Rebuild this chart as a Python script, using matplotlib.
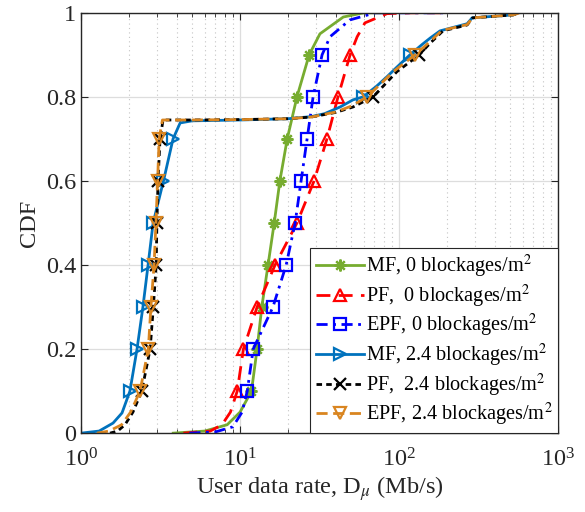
import numpy as np
import matplotlib
matplotlib.use('Agg')
import matplotlib.pyplot as plt
from matplotlib.ticker import LogLocator, NullFormatter

plt.rcParams['font.family'] = ['Liberation Serif', 'DejaVu Serif']
plt.rcParams['mathtext.fontset'] = 'stix'

# CDF curves: rate (Mb/s) vs CDF
mf0_x = [3.8, 6.0, 8.3, 10.0, 11.8, 12.8, 13.7, 15.0, 16.4, 17.8, 19.8, 22.8, 27.2, 31.8, 44.6, 60, 76]
mf0_y = [0, 0.005, 0.02, 0.05, 0.1, 0.2, 0.3, 0.4, 0.5, 0.6, 0.7, 0.8, 0.9, 0.95, 0.99, 1.0, 1.0]

pf0_x = [4.4, 6.5, 7.7, 8.7, 9.6, 10.5, 12.8, 16.6, 22.8, 29.2, 35.2, 41.3, 49.2, 54.5, 61, 84, 120, 200]
pf0_y = [0, 0.005, 0.02, 0.05, 0.1, 0.2, 0.3, 0.4, 0.5, 0.6, 0.7, 0.8, 0.9, 0.943, 0.976, 0.998, 1.0, 1.0]

epf0_x = [4.8, 7.0, 9.0, 10.3, 11.1, 12.1, 16.1, 19.5, 22.2, 24.2, 26.4, 28.8, 32.8, 36.8, 49, 71, 195]
epf0_y = [0, 0.003, 0.015, 0.05, 0.1, 0.2, 0.3, 0.4, 0.5, 0.6, 0.7, 0.8, 0.9, 0.943, 0.983, 1.0, 1.0]

mf24_x = [1.0, 1.3, 1.59, 1.81, 2.03, 2.25, 2.45, 2.64, 2.84, 3.3, 3.79, 4.2, 5.0, 10, 20, 28, 34, 42.6,
          51.4, 59.4, 72, 84, 97, 117, 140, 157, 181, 268, 288, 521, 552]
mf24_y = [0, 0.005, 0.024, 0.048, 0.1, 0.2, 0.3, 0.4, 0.5, 0.6, 0.7, 0.738, 0.743, 0.745, 0.748, 0.753, 0.76, 0.776,
          0.793, 0.8, 0.825, 0.848, 0.871, 0.9, 0.925, 0.94, 0.957, 0.974, 0.988, 0.995, 1.0]

pf24_x = [1.52, 1.7, 1.89, 2.12, 2.41, 2.72, 2.85, 2.97, 3.0, 3.05, 3.14, 3.28, 5, 10, 20, 28, 40, 51.4,
          68.6, 97, 134, 157, 189, 268, 290, 522, 575]
pf24_y = [0, 0.005, 0.02, 0.05, 0.1, 0.2, 0.3, 0.4, 0.5, 0.6, 0.7, 0.745, 0.745, 0.746, 0.748, 0.752, 0.763, 0.776,
          0.8, 0.86, 0.9, 0.928, 0.957, 0.971, 0.988, 0.995, 1.0]

epf24_x = [1.26, 1.5, 1.8, 2.05, 2.35, 2.65, 2.75, 2.88, 2.96, 3.03, 3.10, 3.25, 5, 10, 20, 28, 40, 50,
           63, 92, 126, 155, 186, 268, 290, 522, 575]
epf24_y = [0, 0.005, 0.02, 0.05, 0.1, 0.2, 0.3, 0.4, 0.5, 0.6, 0.7, 0.745, 0.745, 0.746, 0.748, 0.752, 0.764, 0.778,
           0.8, 0.86, 0.9, 0.93, 0.958, 0.972, 0.988, 0.995, 1.0]

labels = ['MF, 0 blockages/m$^2$', 'PF,  0 blockages/m$^2$', 'EPF, 0 blockages/m$^2$',
          'MF, 2.4 blockages/m$^2$', 'PF,  2.4 blockages/m$^2$', 'EPF, 2.4 blockages/m$^2$']

marker_levels = [0.1, 0.2, 0.3, 0.4, 0.5, 0.6, 0.7, 0.8, 0.9]

series = [
    (mf0_x, mf0_y, '#77AC30', '-', (8, 2, 0)),
    (pf0_x, pf0_y, '#FF0000', (0, (5, 3)), '^'),
    (epf0_x, epf0_y, '#0000FF', (0, (4, 2, 1, 2)), 's'),
    (mf24_x, mf24_y, '#0072BD', '-', '>'),
    (pf24_x, pf24_y, '#000000', (0, (2, 1.5)), 'x'),
    (epf24_x, epf24_y, '#D98520', (0, (4, 2)), 'v'),
]

fig = plt.figure(figsize=(5.85, 5.12), dpi=100)
ax = fig.add_axes([0.1385, 0.154, 0.8155, 0.821])

for (x, y, c, ls, m), lab in zip(series, labels):
    idx = [i for i, v in enumerate(y) if any(abs(v - l) < 1e-9 for l in marker_levels)]
    ax.plot(x, y, color=c, linestyle=ls, linewidth=2, marker=m, markevery=idx,
            markersize=8.5, markerfacecolor='none', markeredgewidth=1.6, label=lab)

ax.set_xscale('log')
ax.set_xlim(1, 1000)
ax.set_ylim(0, 1)
ax.set_yticks([0, 0.2, 0.4, 0.6, 0.8, 1])
ax.set_yticklabels(['0', '0.2', '0.4', '0.6', '0.8', '1'])
ax.xaxis.set_minor_locator(LogLocator(base=10, subs=np.arange(2, 10)))
ax.xaxis.set_minor_formatter(NullFormatter())

ax.grid(True, which='major', color='#DDDDDD', linewidth=0.9, linestyle='-')
ax.grid(True, which='minor', axis='x', color='#C4C4C4', linewidth=0.8, linestyle=(0, (1, 3)))
ax.set_axisbelow(True)

ax.tick_params(which='both', direction='in', top=True, right=True, labelsize=17.5, colors='#262626')
ax.tick_params(which='major', length=5, width=0.8)
ax.tick_params(which='minor', length=3, width=0.6)
ax.tick_params(axis='x', pad=11)
for s in ax.spines.values():
    s.set_color('#262626')
    s.set_linewidth(1.0)

ax.set_xlabel(r'User data rate, D$_{\mu}$ (Mb/s)', fontsize=17.5, color='#262626', labelpad=2)
ax.set_ylabel('CDF', fontsize=17.5, color='#262626')

leg = ax.legend(loc='lower right', borderaxespad=0, fontsize=14.6, handlelength=2.4,
                handletextpad=0.1, labelspacing=0.12, borderpad=0.25, fancybox=False,
                framealpha=1, edgecolor='#262626')
leg.get_frame().set_linewidth(0.8)

fig.savefig('out.png', dpi=100)
